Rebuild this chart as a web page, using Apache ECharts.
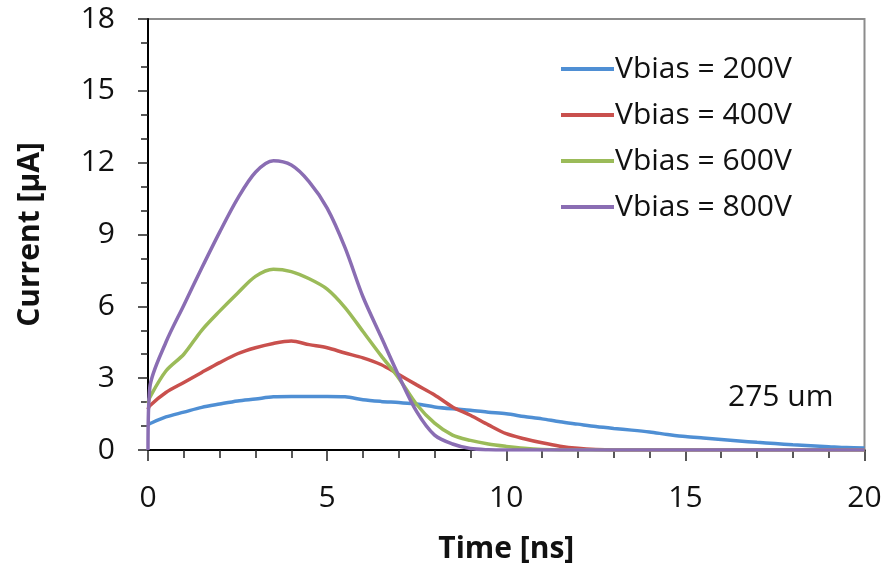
<!DOCTYPE html>
<html>
<head>
<meta charset="utf-8">
<script src="https://cdn.jsdelivr.net/npm/echarts@6/dist/echarts.min.js"></script>
<style>
  html, body { margin: 0; padding: 0; background: #fff; }
  #chart { width: 886px; height: 569px; }
</style>
</head>
<body>
<div id="chart"></div>
<script>
// Sample times (ns)
const times = [0, 0.05, 0.5, 1, 1.5, 2, 2.5, 3, 3.5, 4, 4.5, 5, 5.5, 6, 6.5, 7, 7.5, 8, 8.5, 9, 9.5,
  10, 10.5, 11, 11.5, 12, 12.5, 13, 13.5, 14, 14.5, 15, 15.5, 16, 16.5, 17, 17.5, 18, 18.5, 19, 19.5, 20];

// Current (µA) for each bias voltage
const vbias200 = [1.05, 1.1, 1.38, 1.58, 1.78, 1.92, 2.05, 2.13, 2.22, 2.23, 2.23, 2.23, 2.22, 2.1, 2.03, 1.98, 1.92, 1.8, 1.72, 1.66, 1.58,
  1.51, 1.4, 1.3, 1.18, 1.08, 0.98, 0.9, 0.83, 0.75, 0.65, 0.56, 0.5, 0.44, 0.38, 0.32, 0.27, 0.22, 0.18, 0.14, 0.1, 0.08];
const vbias400 = [1.7, 1.85, 2.4, 2.82, 3.24, 3.65, 4.02, 4.27, 4.45, 4.55, 4.4, 4.27, 4.05, 3.85, 3.57, 3.15, 2.72, 2.3, 1.8, 1.45, 1.05,
  0.68, 0.47, 0.3, 0.16, 0.07, 0.02, 0, 0, 0, 0, 0, 0, 0, 0, 0, 0, 0, 0, 0, 0, 0];
const vbias600 = [1.95, 2.2, 3.3, 4.0, 5.0, 5.8, 6.55, 7.25, 7.55, 7.45, 7.15, 6.72, 5.95, 4.95, 3.95, 3.0, 1.9, 1.12, 0.62, 0.4, 0.25,
  0.15, 0.07, 0.02, 0, 0, 0, 0, 0, 0, 0, 0, 0, 0, 0, 0, 0, 0, 0, 0, 0, 0];
const vbias800 = [0, 2.6, 4.5, 6.05, 7.6, 9.1, 10.5, 11.6, 12.08, 11.9, 11.2, 10.1, 8.45, 6.4, 4.75, 3.1, 1.6, 0.62, 0.25, 0.06, 0.01,
  0, 0, 0, 0, 0, 0, 0, 0, 0, 0, 0, 0, 0, 0, 0, 0, 0, 0, 0, 0, 0];

const seriesNames = ['Vbias = 200V', 'Vbias = 400V', 'Vbias = 600V', 'Vbias = 800V'];
const seriesValues = [vbias200, vbias400, vbias600, vbias800];
const seriesColors = ['#4f8fd4', '#c9504d', '#9bbb59', '#8a6db3'];

const FONT = 'Open Sans';

const chart = echarts.init(document.getElementById('chart'), null, { renderer: 'canvas' });

chart.setOption({
  animation: false,
  backgroundColor: '#ffffff',
  textStyle: { fontFamily: FONT },
  grid: {
    left: 148, right: 21.5, top: 19, bottom: 116,
    show: true, borderColor: '#8c8c8c', borderWidth: 2, backgroundColor: 'transparent'
  },
  legend: {
    orient: 'vertical',
    left: 556, top: 49,
    itemWidth: 53, itemHeight: 4, itemGap: 16,
    icon: 'rect',
    textStyle: { fontFamily: FONT, fontSize: 30, color: '#111', lineHeight: 30, padding: [0, 0, 0, -4] },
    data: seriesNames
  },
  xAxis: {
    type: 'value', min: 0, max: 20, interval: 5,
    name: 'Time [ns]', nameLocation: 'middle', nameGap: 84,
    nameTextStyle: { fontFamily: FONT, fontSize: 30, fontWeight: 'bold', color: '#111' },
    axisLine: { show: true, onZero: false, lineStyle: { color: '#000', width: 2 } },
    axisTick: { show: true, length: 11, lineStyle: { color: '#222', width: 1.5 } },
    minorTick: { show: true, splitNumber: 5, length: 8, lineStyle: { color: '#222', width: 1.5 } },
    splitLine: { show: false },
    axisLabel: { fontFamily: FONT, fontSize: 30, color: '#111', margin: 33 }
  },
  yAxis: {
    type: 'value', min: 0, max: 18, interval: 3,
    name: 'Current [\u00b5A]', nameLocation: 'middle', nameGap: 103,
    nameTextStyle: { fontFamily: FONT, fontSize: 30, fontWeight: 'bold', color: '#111' },
    axisLine: { show: true, onZero: false, lineStyle: { color: '#000', width: 2 } },
    axisTick: { show: true, length: 10, lineStyle: { color: '#222', width: 1.5 } },
    minorTick: { show: true, splitNumber: 3, length: 7, lineStyle: { color: '#222', width: 1.5 } },
    splitLine: { show: false },
    axisLabel: { fontFamily: FONT, fontSize: 30, color: '#111', margin: 33 }
  },
  graphic: [{
    type: 'text',
    left: 728, top: 382,
    style: { text: '275 um', font: '30px "Open Sans"', fill: '#111' }
  }],
  series: seriesNames.map((name, k) => ({
    name: name,
    type: 'line',
    data: times.map((t, i) => [t, seriesValues[k][i]]),
    showSymbol: false,
    symbol: 'none',
    smooth: 0.3,
    lineStyle: { width: 3.5, color: seriesColors[k] },
    itemStyle: { color: seriesColors[k] },
    z: 3
  }))
});
</script>
</body>
</html>
